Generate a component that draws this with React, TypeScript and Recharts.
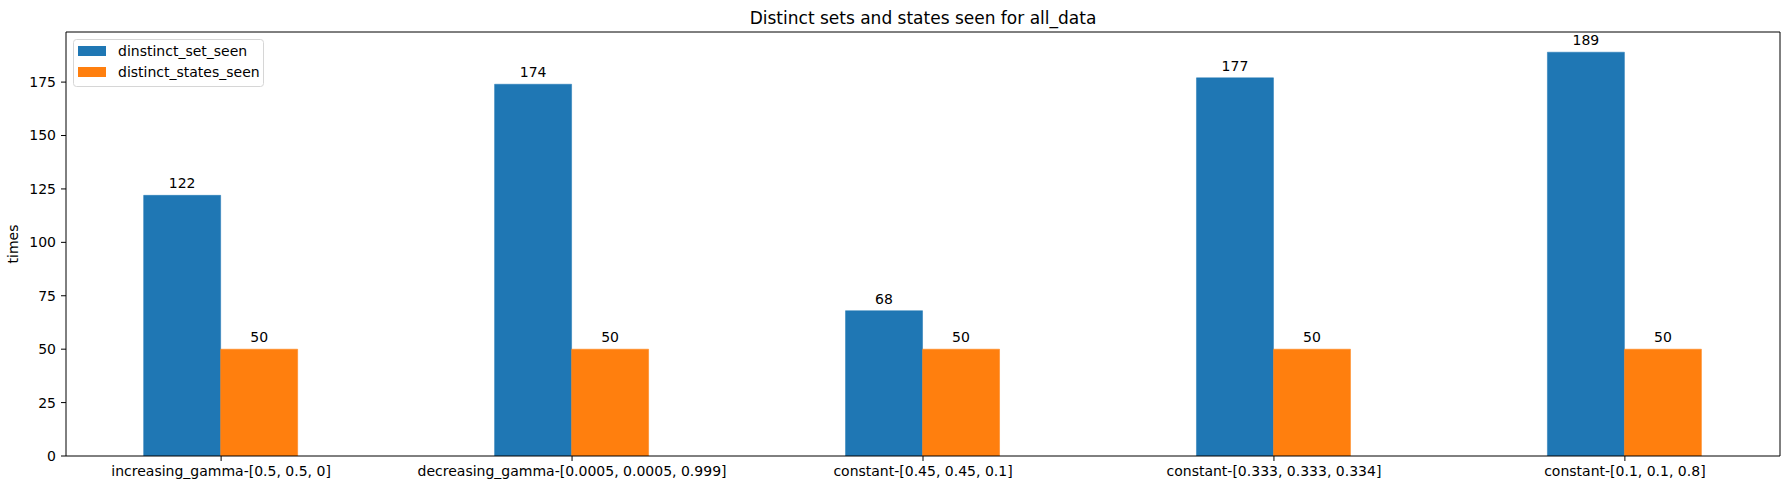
import React from 'react';
import {
  BarChart,
  Bar,
  XAxis,
  YAxis,
  LabelList,
  ReferenceLine,
  Customized,
} from 'recharts';

// category names and measured counts
const categories = [
  'increasing_gamma-[0.5, 0.5, 0]',
  'decreasing_gamma-[0.0005, 0.0005, 0.999]',
  'constant-[0.45, 0.45, 0.1]',
  'constant-[0.333, 0.333, 0.334]',
  'constant-[0.1, 0.1, 0.8]',
];
const distinctSetSeen = [122, 174, 68, 177, 189];
const distinctStatesSeen = [50, 50, 50, 50, 50];
const yTicks = [0, 25, 50, 75, 100, 125, 150, 175];

const seriesNames = ['dinstinct_set_seen', 'distinct_states_seen'];
const colors = ['#1f77b4', '#ff7f0e'];

const FONT = 'DejaVu Sans';

// matplotlib-like limits: bar width 0.22, 5% margins
const barW = 0.22;
const xSpan = categories.length - 1 + 2 * barW;
const xMin = -barW - 0.05 * xSpan;
const xMax = categories.length - 1 + barW + 0.05 * xSpan;
const yMax = Math.max(...distinctSetSeen) * 1.05;

const chartData = categories.map((name, i) => ({
  x: i,
  name,
  set: distinctSetSeen[i],
  states: distinctStatesSeen[i],
}));

// title, y label and legend box drawn in the chart svg
function Labels() {
  return (
    <g>
      <text x={923} y={24} textAnchor="middle" fontFamily={FONT} fontSize={17} fill="#000">
        Distinct sets and states seen for all_data
      </text>
      <text
        x={18}
        y={244}
        textAnchor="middle"
        fontFamily={FONT}
        fontSize={14}
        fill="#000"
        transform="rotate(-90 18 244)"
      >
        times
      </text>
      <g transform="translate(73, 39)">
        <rect x={0.5} y={0.5} width={190} height={47} rx={3} fill="#fff" stroke="#d6d6d6" />
        {seriesNames.map((n, i) => (
          <g key={n}>
            <rect x={5} y={7 + i * 21} width={28} height={10} fill={colors[i]} />
            <text x={45} y={17 + i * 21} fontFamily={FONT} fontSize={14} fill="#000">
              {n}
            </text>
          </g>
        ))}
      </g>
    </g>
  );
}

export default function App() {
  return (
    <div style={{ position: 'absolute', left: 0, top: 0, background: '#fff' }}>
      <BarChart
        width={1790}
        height={490}
        data={chartData}
        margin={{ top: 32, right: 10, left: 0, bottom: 0 }}
        barGap={0}
        style={{ fontFamily: FONT }}
      >
        <XAxis
          dataKey="x"
          type="number"
          domain={[xMin, xMax]}
          ticks={[0, 1, 2, 3, 4]}
          interval={0}
          allowDataOverflow
          height={34}
          tickFormatter={(v) => categories[v] ?? ''}
          tick={{ fill: '#000', fontSize: 14, fontFamily: FONT }}
          tickSize={5}
          tickMargin={5}
          axisLine={{ stroke: '#000' }}
          tickLine={{ stroke: '#000' }}
        />
        <YAxis
          domain={[0, yMax]}
          ticks={yTicks}
          allowDataOverflow
          width={66}
          tick={{ fill: '#000', fontSize: 14, fontFamily: FONT }}
          tickSize={5}
          tickMargin={5}
          axisLine={{ stroke: '#000' }}
          tickLine={{ stroke: '#000' }}
        />
        <ReferenceLine y={yMax} stroke="#000" ifOverflow="extendDomain" />
        <ReferenceLine x={xMax} stroke="#000" ifOverflow="extendDomain" />
        <Bar
          dataKey="set"
          name={seriesNames[0]}
          fill={colors[0]}
          stroke={colors[0]}
          strokeWidth={0.5}
          barSize={77}
          isAnimationActive={false}
        >
          <LabelList dataKey="set" position="top" offset={7} fill="#000" fontSize={14} fontFamily={FONT} />
        </Bar>
        <Bar
          dataKey="states"
          name={seriesNames[1]}
          fill={colors[1]}
          stroke={colors[1]}
          strokeWidth={0.5}
          barSize={77}
          isAnimationActive={false}
        >
          <LabelList dataKey="states" position="top" offset={7} fill="#000" fontSize={14} fontFamily={FONT} />
        </Bar>
        <Customized component={Labels} />
      </BarChart>
    </div>
  );
}
